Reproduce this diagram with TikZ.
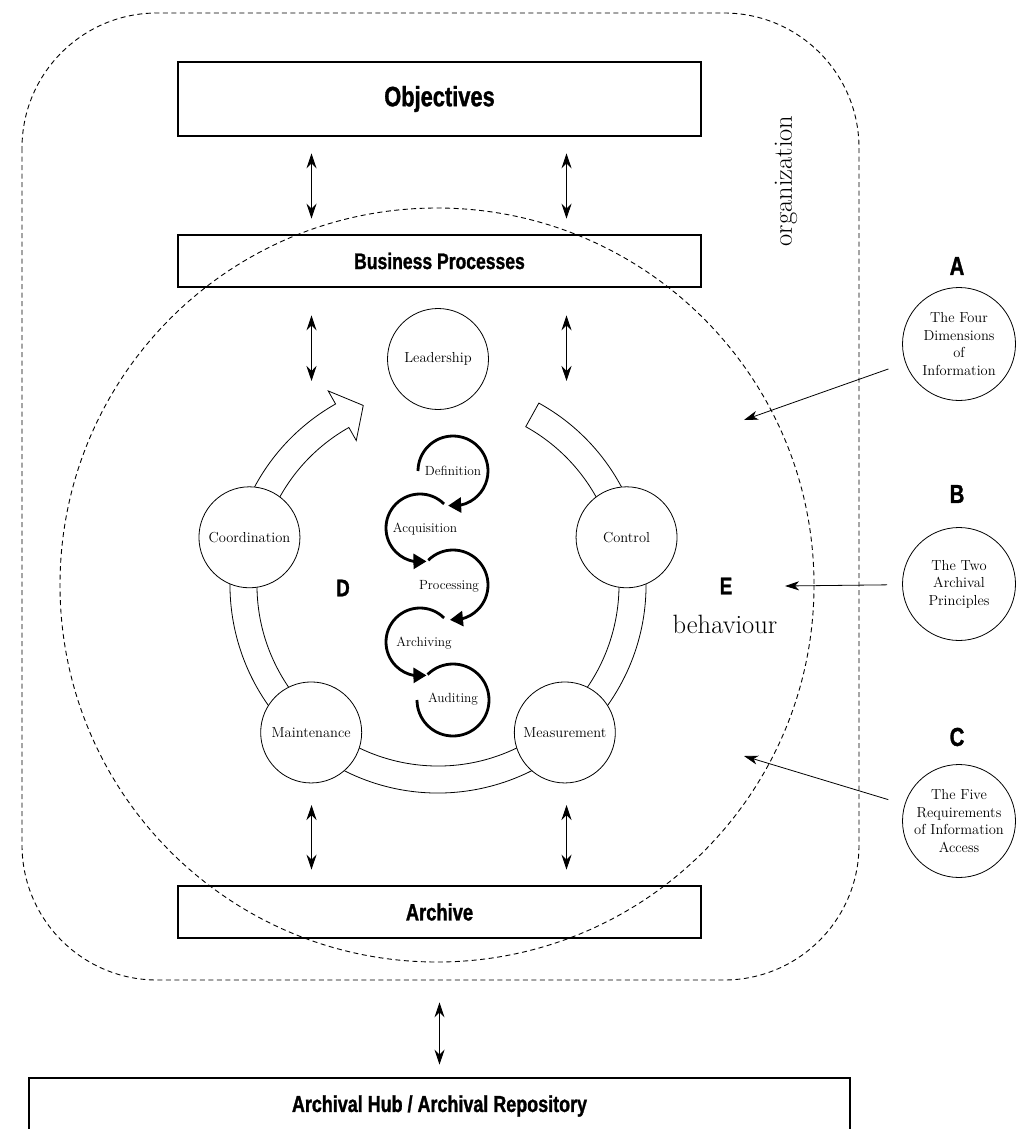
\documentclass[tikz,border=0pt]{standalone}
\usepackage{fontspec}
\newfontfamily\hfont[FakeStretch=0.78,FakeBold=1.2]{Liberation Sans}
\usetikzlibrary{arrows.meta,bending}
\begin{document}
\begin{tikzpicture}[x=1pt,y=-1pt,
  box/.style={draw,line width=2.6pt,minimum width=523pt,inner sep=0pt},
  headfont/.style={font=\hfont\bfseries\fontsize{#1}{#1}\selectfont},
  bigcirc/.style={circle,draw,line width=0.8pt,fill=white,minimum size=101pt,inner sep=0pt,font=\fontsize{14.5}{17}\selectfont},
  sidecirc/.style={circle,draw,line width=0.8pt,minimum size=113pt,inner sep=0pt,align=center,font=\fontsize{14.5}{17.5}\selectfont},
  dashline/.style={line width=0.9pt,dash pattern=on 5pt off 3.5pt},
  dbl/.style={line width=0.9pt,{Stealth[length=15pt,width=10pt,inset=5pt]}-{Stealth[length=15pt,width=10pt,inset=5pt]}},
  pointer/.style={line width=0.8pt,-{Stealth[length=14pt,width=9pt,inset=4pt]}},
  loopline/.style={line width=2.8pt},
  looparrow/.style={line width=2.8pt,-{Triangle[length=13pt,width=15pt]}},
  looplabel/.style={font=\fontsize{13.3}{13}\selectfont,inner sep=0pt},
  band/.style={line width=0.8pt,fill=white}
]
\path[fill=white,use as bounding box] (0,0) rectangle (1016,1129);

% organization boundary and behaviour circle
\draw[dashline,rounded corners=135pt] (22,13) rectangle (859,980);
\draw[dashline] (437,585) circle[radius=377];
\node[rotate=90,font=\fontsize{26.5}{26.5}\selectfont,inner sep=0pt] (org) at (786,181) {organization};

% boxes
\node[box,minimum height=74pt,headfont=28] (obj) at (439.5,99) {Objectives};
\node[box,minimum height=52pt,headfont=22.5] (bp) at (439.5,261) {Business Processes};
\node[box,minimum height=52pt,headfont=23.5] (arch) at (439.5,912) {Archive};
\node[draw,line width=2.6pt,minimum width=821pt,minimum height=56pt,inner sep=0pt,headfont=23] (hub) at (439.5,1106) {Archival Hub / Archival Repository};

% ring band
\coordinate (ring) at (438,585);
\draw[band] ([shift={(-61:181)}]ring) -- ([shift={(-61:208)}]ring)
  arc[start angle=-61,end angle=240.5,radius=208]
  -- ([shift={(240.5:223)}]ring) -- ([shift={(247.4:194.5)}]ring)
  -- ([shift={(240.5:166)}]ring) -- ([shift={(240.5:181)}]ring)
  arc[start angle=240.5,end angle=-61,radius=181] -- cycle;

% circles
\node[bigcirc] (lead) at (438,359) {Leadership};
\node[bigcirc] (coord) at ([shift={(194.2:194.5)}]ring) {Coordination};
\node[bigcirc] (ctrl) at ([shift={(-14.2:194.5)}]ring) {Control};
\node[bigcirc] (maint) at ([shift={(130.7:194.5)}]ring) {Maintenance};
\node[bigcirc] (meas) at ([shift={(49.3:194.5)}]ring) {Measurement};

% spiral
\draw[looparrow] ([shift={(180:35)}]453,471) arc[start angle=180,end angle=458,radius=35];
\draw[looparrow] ([shift={(-45:34)}]420,528) arc[start angle=-45,end angle=-281,radius=34];
\draw[looparrow] ([shift={(-135:35)}]453,585) arc[start angle=-135,end angle=95,radius=35];
\draw[looparrow] ([shift={(-45:34)}]420,642) arc[start angle=-45,end angle=-281,radius=34];
\draw[loopline] ([shift={(-135:36)}]453,700) arc[start angle=-135,end angle=180,radius=36];
\node[looplabel] (def) at (453,471) {Definition};
\node[looplabel] (acq) at (425,529) {Acquisition};
\node[looplabel] (proc) at (449,586) {Processing};
\node[looplabel] (archv) at (424,643) {Archiving};
\node[looplabel] (aud) at (453,699) {Auditing};

% D, E, behaviour
\node[headfont=24,inner sep=0pt] (D) at (343,588) {D};
\node[headfont=24,inner sep=0pt] (E) at (726,586) {E};
\node[font=\fontsize{26.5}{26.5}\selectfont,inner sep=0pt] (beh) at (725,624) {behaviour};

% vertical arrows
\draw[dbl] ([xshift=-128pt,yshift=-16pt]obj.south) -- ([xshift=-128pt,yshift=15pt]bp.north);
\draw[dbl] ([xshift=127pt,yshift=-16pt]obj.south) -- ([xshift=127pt,yshift=15pt]bp.north);
\coordinate (ul) at (311.5,381);
\coordinate (ur) at (566.5,381);
\draw[dbl] ([xshift=-128pt,yshift=-27pt]bp.south) -- (ul);
\draw[dbl] ([xshift=127pt,yshift=-27pt]bp.south) -- (ur);
\coordinate (ll) at (311.5,805);
\coordinate (lr) at (566.5,805);
\draw[dbl] (ll) -- ([xshift=-128pt,yshift=15pt]arch.north);
\draw[dbl] (lr) -- ([xshift=127pt,yshift=15pt]arch.north);
\draw[dbl] ([yshift=-63pt]arch.south) -- ([yshift=12pt]hub.north);

% side circles
\node[headfont=26,inner sep=0pt] (la) at (957,266) {A};
\node[headfont=26,inner sep=0pt] (lb) at (957,494) {B};
\node[headfont=26,inner sep=0pt] (lc) at (957,737) {C};
\node[sidecirc] (ca) at (959,344) {The Four\\Dimensions\\of\\Information};
\node[sidecirc] (cb) at (959,584) {The Two\\Archival\\Principles};
\node[sidecirc] (cc) at (959,821) {The Five\\Requirements\\of Information\\Access};
\coordinate (ta) at (744,420);
\coordinate (tb) at (785,586);
\coordinate (tc) at (744,756);
\draw[pointer,shorten <=18pt] (ca) -- (ta);
\draw[pointer,shorten <=15pt] (cb) -- (tb);
\draw[pointer,shorten <=17pt] (cc) -- (tc);
\end{tikzpicture}
\end{document}
